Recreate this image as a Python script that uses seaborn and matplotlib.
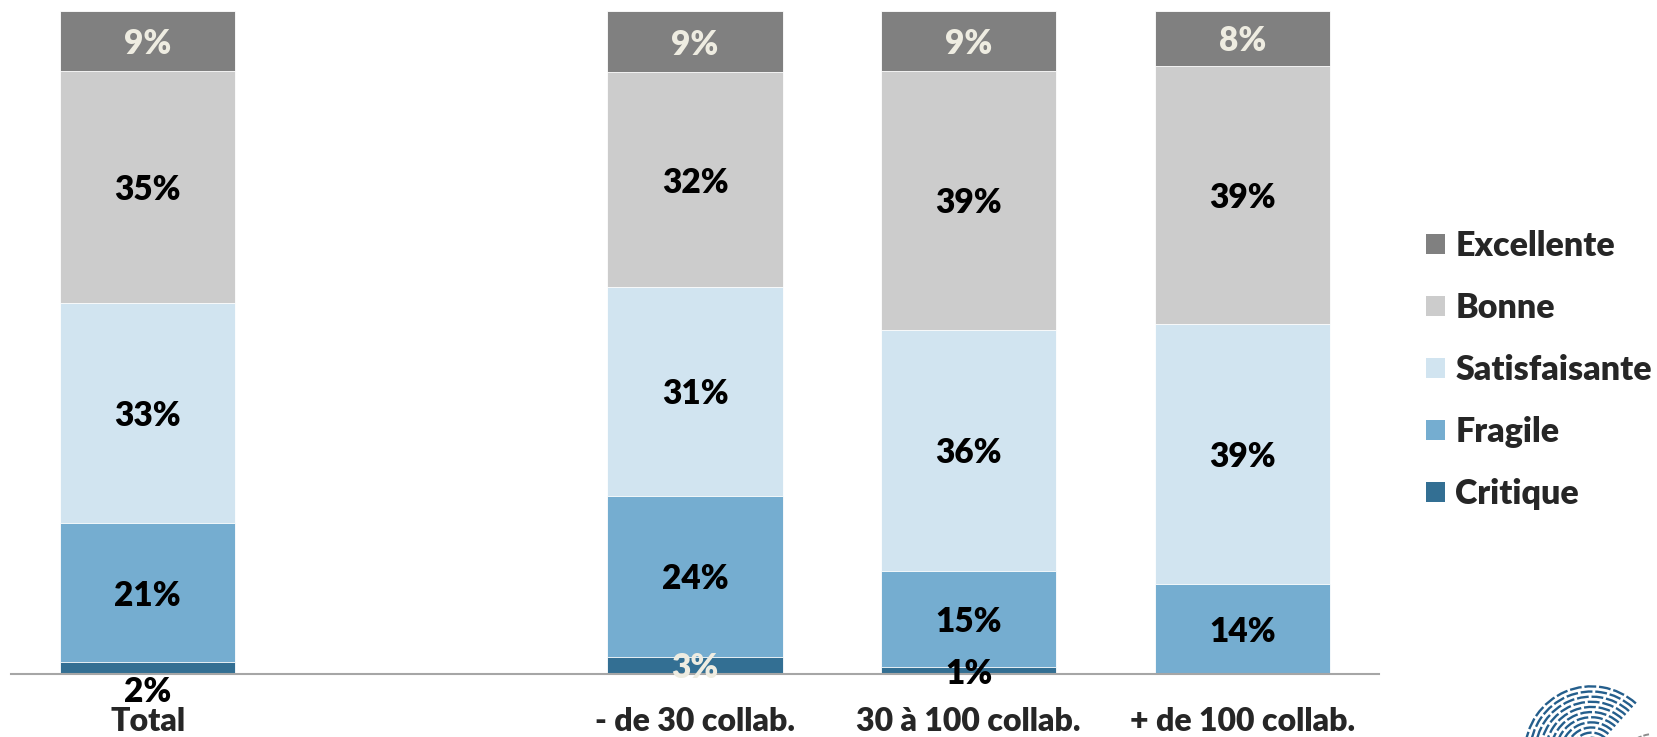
import numpy as np
import pandas as pd
import matplotlib.pyplot as plt
import seaborn as sns
from matplotlib.patches import Patch, Arc

# Data (labels show them rounded)
categories = ['Total', ' ', '- de 30 collab.', '30 à 100 collab.', '+ de 100 collab.']
groups = ['Total', '- de 30 collab.', '30 à 100 collab.', '+ de 100 collab.']
levels = ['Critique', 'Fragile', 'Satisfaisante', 'Bonne', 'Excellente']
critique = [1.8, 2.6, 1.0, 0.0]
fragile = [20.9, 24.3, 14.6, 13.5]
satisfaisante = [33.3, 31.4, 36.3, 39.2]
bonne = [34.9, 32.4, 39.0, 39.0]
excellente = [9.1, 9.3, 9.1, 8.3]

colors = {
    'Critique': '#336F93',
    'Fragile': '#75ADD0',
    'Satisfaisante': '#D1E4F0',
    'Bonne': '#CCCCCC',
    'Excellente': '#808080',
}
CREAM = '#EEECE1'
WEIGHT = 'heavy'

df = pd.DataFrame({'groupe': groups, 'Critique': critique, 'Fragile': fragile,
                   'Satisfaisante': satisfaisante, 'Bonne': bonne,
                   'Excellente': excellente})
cum = df[levels].cumsum(axis=1)

sns.set_style('white')
plt.rcParams['font.family'] = ['Lato', 'DejaVu Sans']

fig = plt.figure(figsize=(16.57, 7.37), dpi=100)
ax = fig.add_axes([0.0066, 0.0855, 0.8257, 0.900])

# stacked bars: draw tallest cumulative first
for lvl in reversed(levels):
    sns.barplot(x=df['groupe'], y=cum[lvl], order=categories, color=colors[lvl],
                width=0.64, edgecolor='white', linewidth=0.6, saturation=1, ax=ax)

pos = {c: i for i, c in enumerate(categories)}
for _, row in df.iterrows():
    x = pos[row['groupe']]
    base = 0
    for lvl in levels:
        v = row[lvl]
        if v > 0:
            y = base + v / 2
            col = 'black'
            if lvl == 'Excellente':
                col = CREAM
            if lvl == 'Critique':
                if row['groupe'] == 'Total':
                    y = -2.3
                elif v >= 2.5:
                    col = CREAM
            ax.text(x, y, f'{v:.0f}%', ha='center', va='center_baseline', fontsize=24,
                    fontweight=WEIGHT, color=col, clip_on=False)
        base += v

ax.set_xlim(-0.5, 4.5)
ax.set_ylim(0, 100)
ax.set_yticks([])
ax.set_xlabel('')
ax.set_ylabel('')
ax.set_xticks(range(len(categories)))
ax.set_xticklabels(categories, fontsize=23, fontweight=WEIGHT)
ax.tick_params(axis='x', length=0, pad=24)
for s in ['top', 'right', 'left']:
    ax.spines[s].set_visible(False)
ax.spines['bottom'].set_color('#A6A6A6')
ax.spines['bottom'].set_linewidth(1.5)

handles = [Patch(facecolor=colors[l], edgecolor='none', label=l) for l in reversed(levels)]
fig.legend(handles=handles, loc='center left', bbox_to_anchor=(0.8505, 0.498),
           frameon=False, prop={'size': 24.5, 'weight': WEIGHT},
           handlelength=0.55, handleheight=0.55, handletextpad=0.3,
           labelspacing=0.88, borderpad=0)

# fingerprint-like logo, bottom right (cut by the figure edge)
lax = fig.add_axes([0.917, -0.068, 0.0827, 0.186])
lax.set_xlim(-1, 1)
lax.set_ylim(-1, 1)
lax.axis('off')
for r in np.arange(0.22, 1.0, 0.075):
    lax.add_patch(Arc((0.05, -0.5), 2 * r, 2 * r, theta1=48, theta2=178, color='#245E8C',
                      lw=1.7, ls=(0, (5, 1.2))))
for r in np.arange(0.15, 0.7, 0.08):
    lax.add_patch(Arc((1.0, -0.85), 2 * r, 2 * r, theta1=100, theta2=175, color='#8C8C8C',
                      lw=1.4, ls=(0, (3, 1.0)), zorder=3))

fig.savefig('out.png', dpi=100)
